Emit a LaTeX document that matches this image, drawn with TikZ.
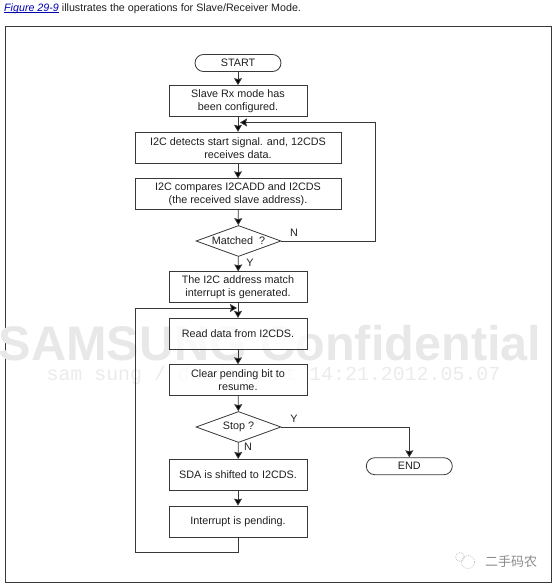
\documentclass[tikz,border=0pt]{standalone}
\usepackage{fontspec}
\setmainfont{Liberation Sans}
\newfontfamily\wmfont{Liberation Mono}
\newfontfamily\cjkfont{Noto Sans CJK SC}
\usepackage{tikz}
\usetikzlibrary{arrows.meta,shapes.geometric}
\definecolor{inkline}{gray}{0.22}
\definecolor{inktext}{gray}{0.12}
\definecolor{wmgray}{gray}{0.91}
\definecolor{wmlight}{gray}{0.92}
\tikzset{
  flowbox/.style={draw=inkline,line width=0.8pt,fill=white,fill opacity=0.8,text opacity=1,text=inktext,align=center,inner sep=0,minimum height=31pt,font=\fontsize{10.8}{13}\selectfont},
  terminal/.style={flowbox,rounded corners=8.5pt,minimum width=86pt,minimum height=17pt},
  decision/.style={flowbox,diamond,aspect=2.74,minimum width=85pt,minimum height=31pt},
  flowlabel/.style={text=inktext,inner sep=0,font=\fontsize{10.8}{13}\selectfont},
  link/.style={draw=inkline,line width=0.8pt,-{Stealth[length=7pt,width=8pt,inset=1pt,fill=black]}}
}
\newcommand{\smallbox}[4]{% y, name, label, width
  \node[flowbox,minimum width=#4] (#2) at (238,#1) {#3};}
\begin{document}
\begin{tikzpicture}[x=1pt,y=-1pt]
  \useasboundingbox (0,0) rectangle (553,586);
  \node[anchor=west,inner sep=0,text=inktext,font=\fontsize{10.7}{12}\selectfont] (caption) at (4,8.5) {\textcolor{blue!70!black}{\rlap{\rule[-1.2pt]{55pt}{0.5pt}}\textit{Figure 29-9}} illustrates the operations for Slave/Receiver Mode.};
  \draw[line width=1pt,inkline] (5,27) rectangle (551,582);
  % watermark
  \node[text=wmgray,inner sep=0,font=\fontsize{48.6}{60}\bfseries\selectfont] (wmtop) at (270,343) {SAMSUNG Confidential};
  \node[text=wmlight,inner sep=0,font=\wmfont\fontsize{19.9}{22}\selectfont] (wmbottom) at (273.5,375) {sam sung / daedong at 14:21.2012.05.07};
  % upper part
  \node[terminal] (start) at (238,63) {START};
  \smallbox{101}{slave}{Slave Rx mode has\\been configured.}{138pt}
  \smallbox{147.7}{detect}{I2C detects start signal. and, 12CDS\\receives data.}{206pt}
  \smallbox{194.2}{compare}{I2C compares I2CADD and I2CDS\\(the received slave address).}{206pt}
  \node[decision] (matched) at (238.5,241) {Matched\ \ ?};
  \smallbox{287.3}{match}{The I2C address match\\interrupt is generated.}{138pt}
  % lower part
  \smallbox{333.8}{readdata}{Read data from I2CDS.}{138pt}
  \smallbox{380.2}{clearbit}{Clear pending bit to\\resume.}{138pt}
  \node[decision] (stop) at (238.5,427) {Stop ?};
  \smallbox{474.8}{shifted}{SDA is shifted to I2CDS.}{138pt}
  \smallbox{521.5}{pending}{Interrupt is pending.}{138pt}
  \node[terminal] (end) at (409.3,466.2) {END};
  % connectors
  \coordinate (joinN) at (240,122.5);
  \coordinate (cornerN) at (375,122.5);
  \coordinate (joinS) at (237,308);
  \coordinate (cornerS) at (135.7,552);
  \draw[link] (start) -- (slave);
  \draw[link] (slave) -- (detect);
  \draw[link] (detect) -- (compare);
  \draw[link] (compare) -- (matched);
  \draw[link] (matched) -- (match);
  \draw[link] (match) -- (readdata);
  \draw[link] (readdata) -- (clearbit);
  \draw[link] (clearbit) -- (stop);
  \draw[link] (stop) -- (shifted);
  \draw[link] (shifted) -- (pending);
  \draw[link] (matched.east) -| (cornerN) -- (joinN);
  \draw[link] (stop.east) -| (end.north);
  \draw[link] (pending.south) |- (cornerS) |- (joinS);
  % branch labels
  \node[flowlabel] (matchedN) at (294,233) {N};
  \node[flowlabel] (matchedY) at (250,263) {Y};
  \node[flowlabel] (stopY) at (294,419) {Y};
  \node[flowlabel] (stopN) at (248,447) {N};
  % logo
  \draw[gray!45,densely dotted,line width=0.8pt] (468,562) circle (6.5);
  \draw[gray!45,densely dotted,line width=0.8pt] (460,557) circle (4.5);
  \node[text=gray!90,inner sep=0,font=\cjkfont\fontsize{13}{15}\selectfont] (logo) at (511,561.5) {二手码农};
\end{tikzpicture}
\end{document}
